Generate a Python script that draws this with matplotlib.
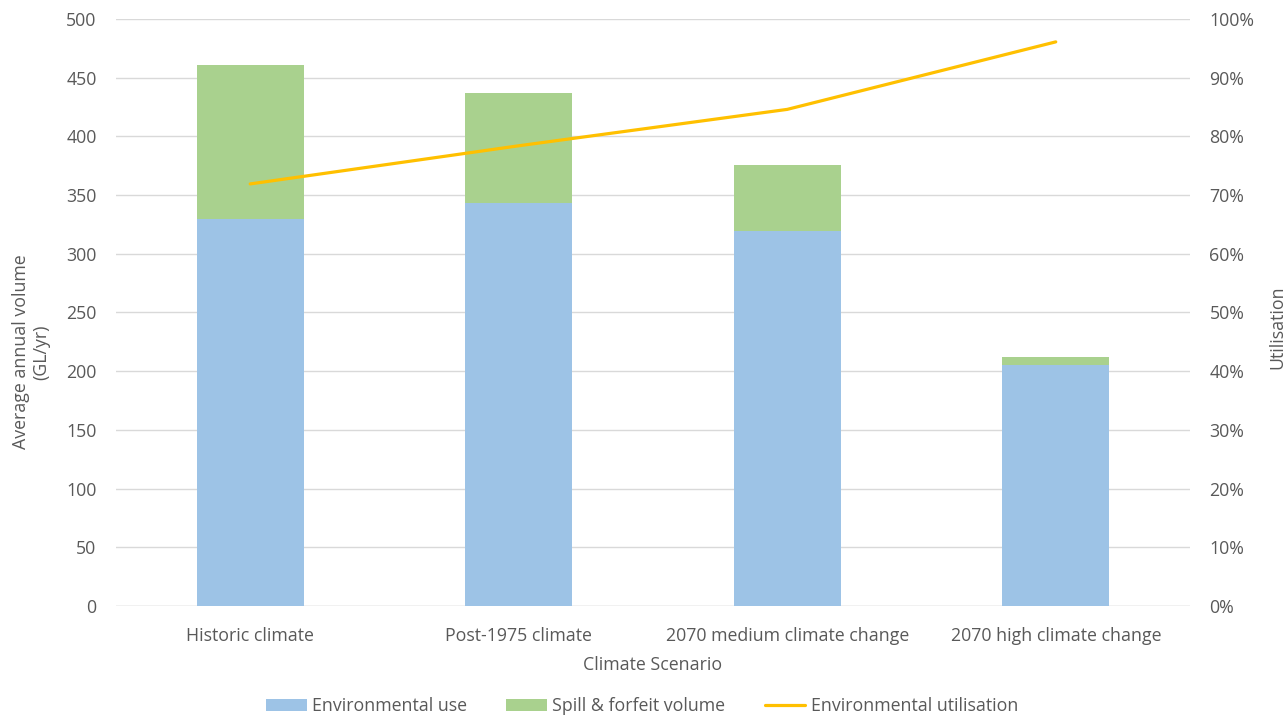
import matplotlib
matplotlib.use("Agg")
import matplotlib.pyplot as plt
from matplotlib.ticker import PercentFormatter
import numpy as np

categories = ["Historic climate", "Post-1975 climate", "2070 medium climate change", "2070 high climate change"]
env_use = [330, 343, 319, 205]
spill = [131, 94, 57, 7]
utilisation = [0.719, 0.784, 0.846, 0.961]

plt.rcParams['font.family'] = ['Open Sans', 'DejaVu Sans']
txt = '#595959'
grid = '#d9d9d9'
fs = 12.8

fig = plt.figure(figsize=(12.84, 7.19), dpi=100)
ax = fig.add_axes([0.0903, 0.1572, 0.8365, 0.8164])
ax2 = ax.twinx()

x = np.arange(len(categories))
w = 0.4
b1 = ax.bar(x, env_use, w, color='#9dc3e6', label='Environmental use', zorder=2)
b2 = ax.bar(x, spill, w, bottom=env_use, color='#a9d18e', label='Spill & forfeit volume', zorder=2)
l1, = ax2.plot(x, utilisation, color='#ffc000', lw=2.3, label='Environmental utilisation', solid_capstyle='round')

ax.set_xlim(-0.5, 3.5)
ax.set_ylim(0, 500)
ax.set_yticks(np.arange(0, 501, 50))
ax2.set_ylim(0, 1)
ax2.set_yticks(np.arange(0, 1.01, 0.1))
ax2.yaxis.set_major_formatter(PercentFormatter(1.0, decimals=0))

ax.grid(axis='y', color=grid, lw=1, zorder=0)
ax.set_axisbelow(True)
for a in (ax, ax2):
    for s in ['top', 'right', 'left', 'bottom']:
        a.spines[s].set_visible(False)
    a.tick_params(length=0, labelsize=fs, colors=txt)
ax.axhline(0, color=grid, lw=1, zorder=1)

ax.set_xticks(x)
ax.set_xticklabels(categories, fontsize=fs, color=txt)
ax.tick_params(axis='x', pad=15)
ax.tick_params(axis='y', pad=14)
ax2.tick_params(axis='y', pad=14)

ax.set_xlabel('Climate Scenario', fontsize=fs, color=txt)
ax.set_ylabel('Average annual volume\n(GL/yr)', fontsize=fs, color=txt, linespacing=1.15)
ax2.set_ylabel('Utilisation', fontsize=fs, color=txt)
ax.xaxis.set_label_coords(0.5, -0.086)
ax.yaxis.set_label_coords(-0.061, 0.433)
ax2.yaxis.set_label_coords(1.073, 0.475)

fig.legend(handles=[b1, b2, l1], loc='center', bbox_to_anchor=(0.5, 0.018), ncol=3,
           frameon=False, fontsize=fs, labelcolor=txt, handlelength=2.3,
           handleheight=0.7, columnspacing=2.2, handletextpad=0.3)

fig.savefig('out.png', dpi=100)
